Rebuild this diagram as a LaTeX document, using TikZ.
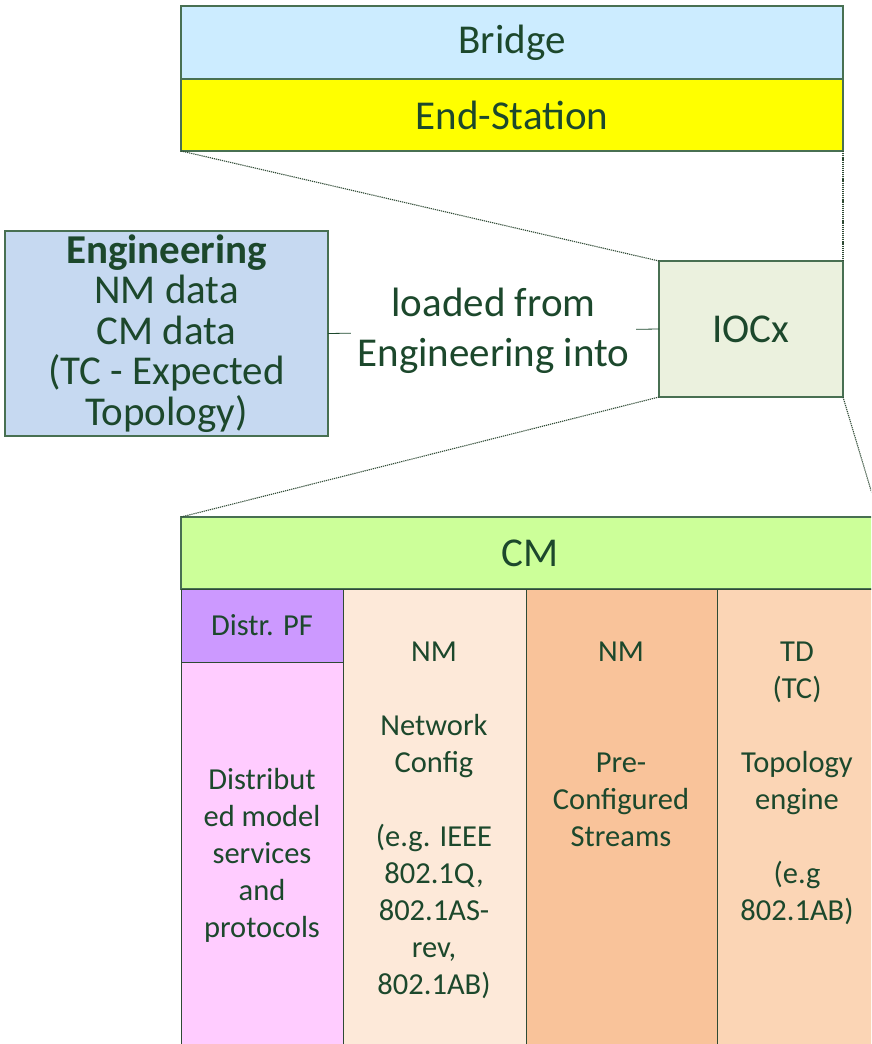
\documentclass[tikz,border=0pt]{standalone}
\usepackage{fontspec}
\setmainfont{Carlito}
\usepackage{xcolor}
\usetikzlibrary{positioning}
\definecolor{txtgreen}{RGB}{28,72,44}
\definecolor{edgegreen}{RGB}{72,112,82}
\definecolor{coledge}{RGB}{46,74,52}
\definecolor{bridgeblue}{HTML}{CCECFF}
\definecolor{engblue}{HTML}{C6D9F1}
\definecolor{iocgreen}{HTML}{EBF1DE}
\definecolor{cmgreen}{HTML}{CCFF99}
\definecolor{pfpurple}{HTML}{CC99FF}
\definecolor{dmpink}{HTML}{FFCCFF}
\definecolor{nmlight}{HTML}{FDE9D9}
\definecolor{nmorange}{HTML}{F9C39A}
\definecolor{tdpeach}{HTML}{FBD5B5}
\definecolor{esyellow}{HTML}{FFFF00}
\newcommand{\bigtxt}{\fontsize{41}{40.5}\selectfont}
\newcommand{\smalltxt}{\fontsize{30.5}{37}\selectfont}

\begin{document}
\begin{tikzpicture}[x=1pt, y=-1pt,
  box/.style={draw=edgegreen, line width=1.5pt, text=txtgreen, align=center,
    inner sep=0pt, outer sep=0pt, anchor=north west, font=\bigtxt},
  colbox/.style={box, draw=coledge, line width=1pt, font=\smalltxt},
  coltext/.style={text=txtgreen, align=center, inner sep=0pt, anchor=north,
    font=\smalltxt},
  zoomline/.style={draw=coledge, line width=1.1pt, dash pattern=on 1.2pt off 0.9pt}]
  \useasboundingbox (0,0) rectangle (871,1044);
  \clip (0,0) rectangle (871,1044);

  % Device types
  \node[box, fill=bridgeblue, minimum width=662pt, minimum height=73pt]
    (bridge) at (181,6) {Bridge};
  \node[box, fill=esyellow, minimum width=662pt, minimum height=72pt]
    (endst) at (181,79) {End-Station};

  % Engineering and IOC
  \node[box, fill=engblue, minimum width=323pt, minimum height=205pt]
    (eng) at (5,231) {\textbf{Engineering}\\NM data\\CM data\\(TC - Expected\\Topology)};
  \node[box, fill=iocgreen, minimum width=184pt, minimum height=136pt]
    (iocx) at (659,261) {IOCx};
  \draw[txtgreen, line width=0.8pt] (eng.east) -- node[fill=white, inner xsep=7pt,
      inner ysep=2pt, text=txtgreen, align=center, font=\fontsize{41}{50}\selectfont]
    (loaded) {loaded from\\Engineering into} (iocx.west);

  % Zoom lines
  \draw[zoomline] (endst.south west) -- (iocx.north west);
  \draw[zoomline] (endst.south east) -- (iocx.north east);

  % CM stack
  \node[box, fill=cmgreen, minimum width=698pt, minimum height=72pt]
    (cm) at (181,517) {CM};
  \draw[zoomline] (iocx.south west) -- (cm.north west);
  \draw[zoomline] (iocx.south east) -- (cm.north east);

  \node[colbox, fill=pfpurple, minimum width=162pt, minimum height=73pt]
    (distr) at (181,589) {Distr. PF};
  \node[colbox, fill=dmpink, minimum width=162pt, minimum height=386pt]
    (dmodel) at (181,662) {Distribut\\ed model\\services\\and\\protocols};
  \node[colbox, fill=nmlight, minimum width=183pt, minimum height=459pt]
    (netcfg) at (343,589) {};
  \node[colbox, fill=nmorange, minimum width=191pt, minimum height=459pt]
    (streams) at (526,589) {};
  \node[colbox, fill=tdpeach, minimum width=162pt, minimum height=459pt]
    (topo) at (717,589) {};

  % Column texts
  \node[coltext] (netcfgtxt) at (434,642)
    {NM\\[37pt]Network\\Config\\[37pt](e.g. IEEE\\802.1Q,\\802.1AS-\\rev,\\802.1AB)};
  \node[coltext] (streamstxt) at (621,642)
    {NM\\[74pt]Pre-\\Configured\\Streams};
  \node[coltext] (topotxt) at (797,642)
    {TD\\(TC)\\[37pt]Topology\\engine\\[37pt](e.g\\802.1AB)};
\end{tikzpicture}
\end{document}
